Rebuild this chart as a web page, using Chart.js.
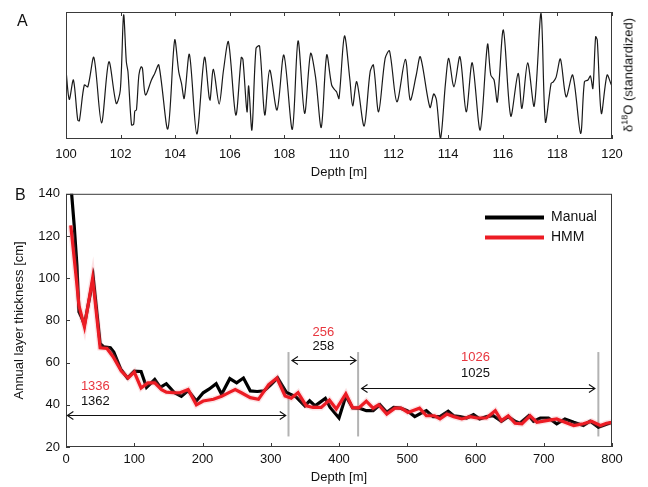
<!DOCTYPE html>
<html><head><meta charset="utf-8">
<script src="https://cdn.jsdelivr.net/npm/chart.js@4"></script>
<style>
html,body{margin:0;padding:0;background:#fff;}
#wrap{position:relative;width:648px;height:487px;overflow:hidden;font-family:"Liberation Sans",Arial,sans-serif;color:#111;}
canvas{position:absolute;left:0;}
#cA{top:0;}
#cB{top:180px;}
.plab{position:absolute;font-size:16px;line-height:1;}
#ylabA{position:absolute;left:628px;top:75px;transform:translate(-50%,-50%) rotate(-90deg);white-space:nowrap;font-size:13px;line-height:1;}
#ylabA sup{font-size:9px;vertical-align:5px;line-height:0;}
</style></head>
<body>
<div id="wrap">
  <canvas id="cA" width="648" height="185"></canvas>
  <canvas id="cB" width="648" height="307"></canvas>
  <div class="plab" style="left:17px;top:12.5px;">A</div>
  <div class="plab" style="left:15px;top:186.5px;">B</div>
  <div id="ylabA">δ<sup>18</sup>O (standardized)</div>
</div>
<script>
// ---------- Panel A data ----------
const depthA = [100.00,100.12,100.27,100.43,100.49,100.67,100.80,101.02,101.30,101.57,101.84,101.99,102.11,102.21,102.27,102.40,102.48,102.52,102.58,102.67,102.75,102.80,102.91,103.13,103.25,103.40,103.73,103.98,104.13,104.23,104.33,104.52,104.79,105.07,105.24,105.28,105.40,105.61,105.77,105.95,106.22,106.42,106.48,106.63,106.69,106.81,106.96,107.09,107.28,107.46,107.73,107.98,108.29,108.50,108.74,108.96,109.14,109.35,109.55,109.73,109.85,109.91,110.00,110.20,110.40,110.50,110.65,110.92,111.14,111.26,111.45,111.69,111.85,112.12,112.43,112.61,112.83,112.98,113.33,113.47,113.57,113.72,113.90,114.02,114.21,114.43,114.66,114.88,115.17,115.44,115.56,115.68,115.80,116.02,116.29,116.56,116.70,116.91,117.15,117.40,117.56,117.77,117.85,117.95,118.11,118.32,118.56,118.85,118.99,119.12,119.21,119.30,119.40,119.46,119.61,119.82,119.98,120.00];
const d18O = [0.67,-0.80,0.17,-1.83,-1.87,-0.08,-0.17,1.30,-1.97,1.08,-1.00,-0.33,3.42,1.08,0.58,-2.08,-2.03,-1.38,-1.33,0.42,0.83,0.75,-0.58,0.17,0.50,0.92,-2.28,2.17,0.58,0.00,-0.75,1.45,-2.53,1.30,-0.67,-0.83,0.70,-1.03,0.67,2.08,-1.58,1.30,1.20,-1.42,-0.13,-2.33,1.75,1.87,-1.58,0.67,-1.33,1.42,-2.30,2.13,-1.50,1.50,0.33,-2.20,1.42,-0.08,-0.33,-0.42,-0.75,2.37,0.17,-1.13,0.08,-2.13,0.58,0.92,-1.42,1.25,1.63,-0.92,1.20,-0.83,0.42,1.33,-1.20,-0.53,-0.83,-2.75,0.00,1.25,-0.17,1.33,-1.42,1.03,-2.33,1.95,0.42,0.17,-0.92,2.67,-1.63,0.50,-1.25,1.03,-1.13,3.50,-1.92,0.00,0.08,0.30,1.22,-0.67,0.42,-2.50,0.08,0.17,0.37,-0.25,2.33,2.17,-1.50,0.42,-0.08,0.00];
const ticksA = [100,102,104,106,108,110,112,114,116,118,120];

// ---------- Panel B data ----------
const manualDepth = [0,8,12,16,19,22,27,40,50,55,65,70,80,90,100,110,118,130,138,147,159,169,179,191,201,210,220,228,240,250,260,270,280,290,300,310,323,337,350,357,365,380,387,400,410,420,430,440,450,460,470,480,490,500,511,520,528,538,548,560,568,577,587,597,606,616,626,638,648,658,665,678,685,695,707,719,731,744,758,768,780,790,800];
const manualThick = [141,141,125,106,84,82,78,100,69,67.5,67,65,57,52.7,56,55.8,48.3,52,48.3,50,45.7,44,46.8,41.8,45.7,47.5,50,45,52.4,50.4,52.7,46.6,46.3,46.6,49.5,52.8,45.8,43.75,39.5,41.9,39.5,43,38.75,33.75,44.2,38.5,38.4,37.2,37.2,40,36.4,38.75,38.4,37.2,34.4,36,37.2,34.4,34.4,36.9,34.8,34.4,33.75,35.3,33.3,34.4,34.8,32.2,34.4,32.2,31.25,34.8,32.2,33.75,33.75,31,33.3,31.7,30.2,32.2,29.4,30.6,31.7];
const hmmDepth = [7,15,19,27,39,50,60,69,81,91,100,110,120,130,140,147,157,167,179,191,201,216,228,240,248,257,270,282,297,309,321,330,340,352,362,374,386,396,410,420,429,440,450,458,470,482,491,501,518,528,540,548,558,568,580,592,602,616,629,638,648,658,668,680,690,704,719,731,744,758,770,783,792,800];
const hmmThick = [125,100,87,77,100,67,66.7,62.8,56,52.7,55.5,48,50.4,50.4,47.2,46,45.7,45.7,47.2,40,41.8,42.6,44,46,47.2,45.7,43.4,42.6,49.6,52.7,44.2,43.1,45.8,39.5,38.75,38.75,42.2,38,45.2,38.6,38.5,41.7,38.4,40,35.6,38.4,38.4,36.4,38.4,34.8,34.8,33.3,35.6,34.4,33.3,34.4,33.75,33.75,37.2,32.5,34.8,31.25,31,34.8,31.7,32.5,33.3,31.7,30.2,31,32.2,30.2,31.25,31.7];
const seriesNames = ['Manual','HMM'];
const dividerDepths = [326,428,780];
const spanStart = [2,331,433];
const spanEnd = [322,425,775];
const countsHMM = ['1336','256','1026'];
const countsManual = ['1362','258','1025'];

const FONT = '"Liberation Sans", Arial, sans-serif';
const RED = '#ec1c24';
const REDTXT = '#e8363e';

function pts(xs, ys){ return xs.map((x,i)=>({x:x, y:ys[i]})); }

const frameTicks = {
  id:'frameTicks',
  afterDatasetsDraw(chart, args, opts){
    const {ctx, chartArea:a, scales} = chart;
    ctx.save();
    ctx.strokeStyle = '#3a3a3a'; ctx.lineWidth = 1;
    ctx.strokeRect(a.left+0.5, a.top+0.5, a.right-a.left-1, a.bottom-a.top-1);
    const tl = 4;
    ctx.beginPath();
    scales.x.ticks.forEach(t=>{
      const px = Math.round(scales.x.getPixelForValue(t.value))+0.5;
      ctx.moveTo(px, a.bottom); ctx.lineTo(px, a.bottom-tl);
      if (opts.top){ ctx.moveTo(px, a.top); ctx.lineTo(px, a.top+tl); }
    });
    if (opts.left){
      scales.y.ticks.forEach(t=>{
        const py = Math.round(scales.y.getPixelForValue(t.value))+0.5;
        ctx.moveTo(a.left, py); ctx.lineTo(a.left+tl, py);
      });
    }
    ctx.stroke();
    ctx.restore();
  }
};

const annot = {
  id:'annot',
  beforeDatasetsDraw(chart, args, opts){
    const {ctx, scales:{x,y}} = chart;
    ctx.save(); ctx.strokeStyle = '#b3b3b3'; ctx.lineWidth = 2;
    dividerDepths.forEach(d=>{
      const px = x.getPixelForValue(d);
      ctx.beginPath(); ctx.moveTo(px, y.getPixelForValue(opts.divTop)); ctx.lineTo(px, y.getPixelForValue(opts.divBottom)); ctx.stroke();
    });
    ctx.restore();
  },
  afterDatasetsDraw(chart, args, opts){
    const {ctx, scales:{x,y}} = chart;
    ctx.save();
    ctx.strokeStyle = '#111'; ctx.lineWidth = 1.1;
    spanStart.forEach((s,i)=>{
      const x1 = x.getPixelForValue(s), x2 = x.getPixelForValue(spanEnd[i]);
      const yy = Math.round(y.getPixelForValue(opts.arrowLevel[i]))+0.5;
      ctx.beginPath();
      ctx.moveTo(x1,yy); ctx.lineTo(x2,yy);
      ctx.moveTo(x1+6,yy-4); ctx.lineTo(x1,yy); ctx.lineTo(x1+6,yy+4);
      ctx.moveTo(x2-6,yy-4); ctx.lineTo(x2,yy); ctx.lineTo(x2-6,yy+4);
      ctx.stroke();
    });
    ctx.font = '13px ' + FONT; ctx.textAlign = 'center'; ctx.textBaseline = 'middle';
    countsHMM.forEach((t,i)=>{
      const px = x.getPixelForValue(opts.labelDepth[i]);
      ctx.fillStyle = REDTXT; ctx.fillText(t, px, y.getPixelForValue(opts.labelTop[i]));
      ctx.fillStyle = '#111'; ctx.fillText(countsManual[i], px, y.getPixelForValue(opts.labelBottom[i]));
    });
    // legend (in the order of seriesNames)
    const a = chart.chartArea;
    const items = seriesNames.map(n=>chart.data.datasets.find(d=>d.showInLegend && d.label===n));
    items.forEach((ds,i)=>{
      const yy = a.top + 23.7 + i*20;
      ctx.strokeStyle = ds.borderColor; ctx.lineWidth = 4;
      ctx.beginPath(); ctx.moveTo(a.right-127, yy); ctx.lineTo(a.right-68, yy); ctx.stroke();
      ctx.fillStyle = '#111'; ctx.font = '14px ' + FONT; ctx.textAlign = 'left';
      ctx.fillText(ds.label, a.right-61, yy);
    });
    ctx.restore();
  }
};

new Chart(document.getElementById('cA'), {
  type:'line',
  data:{datasets:[{label:'d18O', data:pts(depthA, d18O), borderColor:'#1a1a1a', borderWidth:1.2, pointRadius:0, tension:0.3, fill:false}]},
  options:{
    responsive:false, animation:false, devicePixelRatio:1,
    layout:{padding:{left:66,right:36,top:12,bottom:0}},
    plugins:{legend:{display:false}, tooltip:{enabled:false}, frameTicks:{top:true,left:false}},
    scales:{
      x:{type:'linear', min:100, max:120, afterFit(s){ s.height = 46; },
        afterBuildTicks(s){ s.ticks = ticksA.map(v=>({value:v})); },
        ticks:{autoSkip:false, maxRotation:0, padding:7.5, color:'#111', font:{size:13, family:FONT}},
        grid:{display:false, drawTicks:false}, border:{display:false},
        title:{display:true, text:'Depth [m]', color:'#111', font:{size:13, family:FONT}, padding:{top:0,bottom:5}}},
      y:{display:false, min:-2.78, max:3.57}
    }
  },
  plugins:[frameTicks]
});

new Chart(document.getElementById('cB'), {
  type:'line',
  data:{datasets:[
    {label:seriesNames[1], data:pts(hmmDepth, hmmThick), borderColor:RED, borderWidth:3.2, pointRadius:0, tension:0, order:0, showInLegend:true},
    {label:'HMM range', data:pts(hmmDepth, hmmThick), borderColor:'rgba(240,110,120,0.2)', borderWidth:6, pointRadius:0, tension:0, order:1},
    {label:seriesNames[0], data:pts(manualDepth, manualThick), borderColor:'#000', borderWidth:3.2, pointRadius:0, tension:0, order:2, showInLegend:true}
  ]},
  options:{
    responsive:false, animation:false, devicePixelRatio:1,
    layout:{padding:{left:0,right:36,top:10,bottom:0}},
    plugins:{legend:{display:false}, tooltip:{enabled:false}, frameTicks:{top:false,left:true},
      annot:{divTop:65, divBottom:25, arrowLevel:[35.3,61,48.1], labelDepth:[43,377,600], labelTop:[48.9,74.2,62.5], labelBottom:[41.5,67.8,54.7]}},
    scales:{
      x:{type:'linear', min:0, max:800, afterFit(s){ s.height = 40; },
        ticks:{stepSize:100, autoSkip:false, maxRotation:0, padding:4.5, color:'#111', font:{size:13, family:FONT}},
        grid:{display:false, drawTicks:false}, border:{display:false},
        title:{display:true, text:'Depth [m]', color:'#111', font:{size:13, family:FONT}, padding:{top:0,bottom:2}}},
      y:{min:20, max:140, afterFit(s){ s.width = 66; },
        ticks:{stepSize:20, padding:6, color:'#111', font:{size:13, family:FONT}},
        grid:{display:false, drawTicks:false}, border:{display:false},
        title:{display:true, text:'Annual layer thickness [cm]', color:'#111', font:{size:13, family:FONT}, padding:{top:12,bottom:0}}}
    }
  },
  plugins:[frameTicks, annot]
});
</script>
</body></html>
